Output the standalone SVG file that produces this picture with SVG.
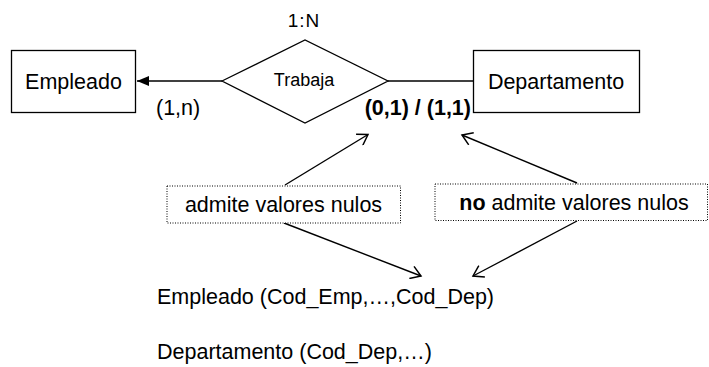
<svg xmlns="http://www.w3.org/2000/svg" width="709" height="367" viewBox="0 0 709 367">
  <defs>
    <style>
      .txt { font-family: "Liberation Sans", Arial, sans-serif; font-size: 21.5px; fill: #000; }
      .bold { font-weight: bold; }
      .shape { fill: #fff; stroke: #000; stroke-width: 1.3; }
      .note { fill: #fff; stroke: #000; stroke-width: 1; stroke-dasharray: 1 1.5; }
      .link { fill: none; stroke: #000; stroke-width: 1.4; }
    </style>
    <marker id="solidHead" viewBox="0 0 12 10" refX="12" refY="5" markerWidth="12" markerHeight="10" markerUnits="userSpaceOnUse" orient="auto">
      <path d="M0,0 L12,5 L0,10 Z" fill="#000"/>
    </marker>
    <marker id="openHead" viewBox="0 0 14 14" refX="12" refY="7" markerWidth="14" markerHeight="14" markerUnits="userSpaceOnUse" orient="auto">
      <path d="M2,0.5 L12,7 L2,13.5" fill="none" stroke="#000" stroke-width="1.5"/>
    </marker>
  </defs>

  <rect width="709" height="367" fill="#fff"/>

  <!-- connectors -->
  <g id="connectors">
    <line class="link" x1="222" y1="81" x2="137" y2="81" marker-end="url(#solidHead)"/>
    <line class="link" x1="388" y1="81" x2="473" y2="81"/>
    <line class="link" x1="285" y1="185" x2="368" y2="134.5" marker-end="url(#openHead)"/>
    <line class="link" x1="577" y1="183" x2="462" y2="135" marker-end="url(#openHead)"/>
    <line class="link" x1="284" y1="223" x2="421" y2="276" marker-end="url(#openHead)"/>
    <line class="link" x1="577" y1="221" x2="473" y2="276" marker-end="url(#openHead)"/>
  </g>

  <!-- entities -->
  <g id="empleado">
    <rect class="shape" x="11.5" y="50.5" width="124" height="62"/>
    <text class="txt" x="73.5" y="89" text-anchor="middle">Empleado</text>
  </g>

  <g id="departamento">
    <rect class="shape" x="473.5" y="50.5" width="166" height="62"/>
    <text class="txt" x="556" y="89" text-anchor="middle">Departamento</text>
  </g>

  <!-- relationship -->
  <g id="trabaja">
    <polygon class="shape" points="222,81 305,40 388,81 305,123"/>
    <text class="txt" x="304" y="86" text-anchor="middle" style="font-size:18px">Trabaja</text>
    <text class="txt" x="304" y="26.5" text-anchor="middle" style="font-size:19px;letter-spacing:1px">1:N</text>
  </g>

  <!-- cardinalities -->
  <g id="cardinalidades">
    <text class="txt" x="156" y="115">(1,n)</text>
    <text class="txt bold" x="471" y="115" text-anchor="end">(0,1) / (1,1)</text>
  </g>

  <!-- notes -->
  <g id="nota-nulos">
    <rect class="note" x="167" y="186" width="233.5" height="37"/>
    <text class="txt" x="283.5" y="211.5" text-anchor="middle">admite valores nulos</text>
  </g>

  <g id="nota-no-nulos">
    <rect class="note" x="435" y="184" width="272.5" height="36.5"/>
    <text class="txt" x="574" y="209.5" text-anchor="middle"><tspan class="bold">no</tspan> admite valores nulos</text>
  </g>

  <!-- relational schema -->
  <g id="esquema">
    <text class="txt" x="157" y="303.5">Empleado (Cod_Emp,…,Cod_Dep)</text>
    <text class="txt" x="157" y="359">Departamento (Cod_Dep,…)</text>
  </g>
</svg>
